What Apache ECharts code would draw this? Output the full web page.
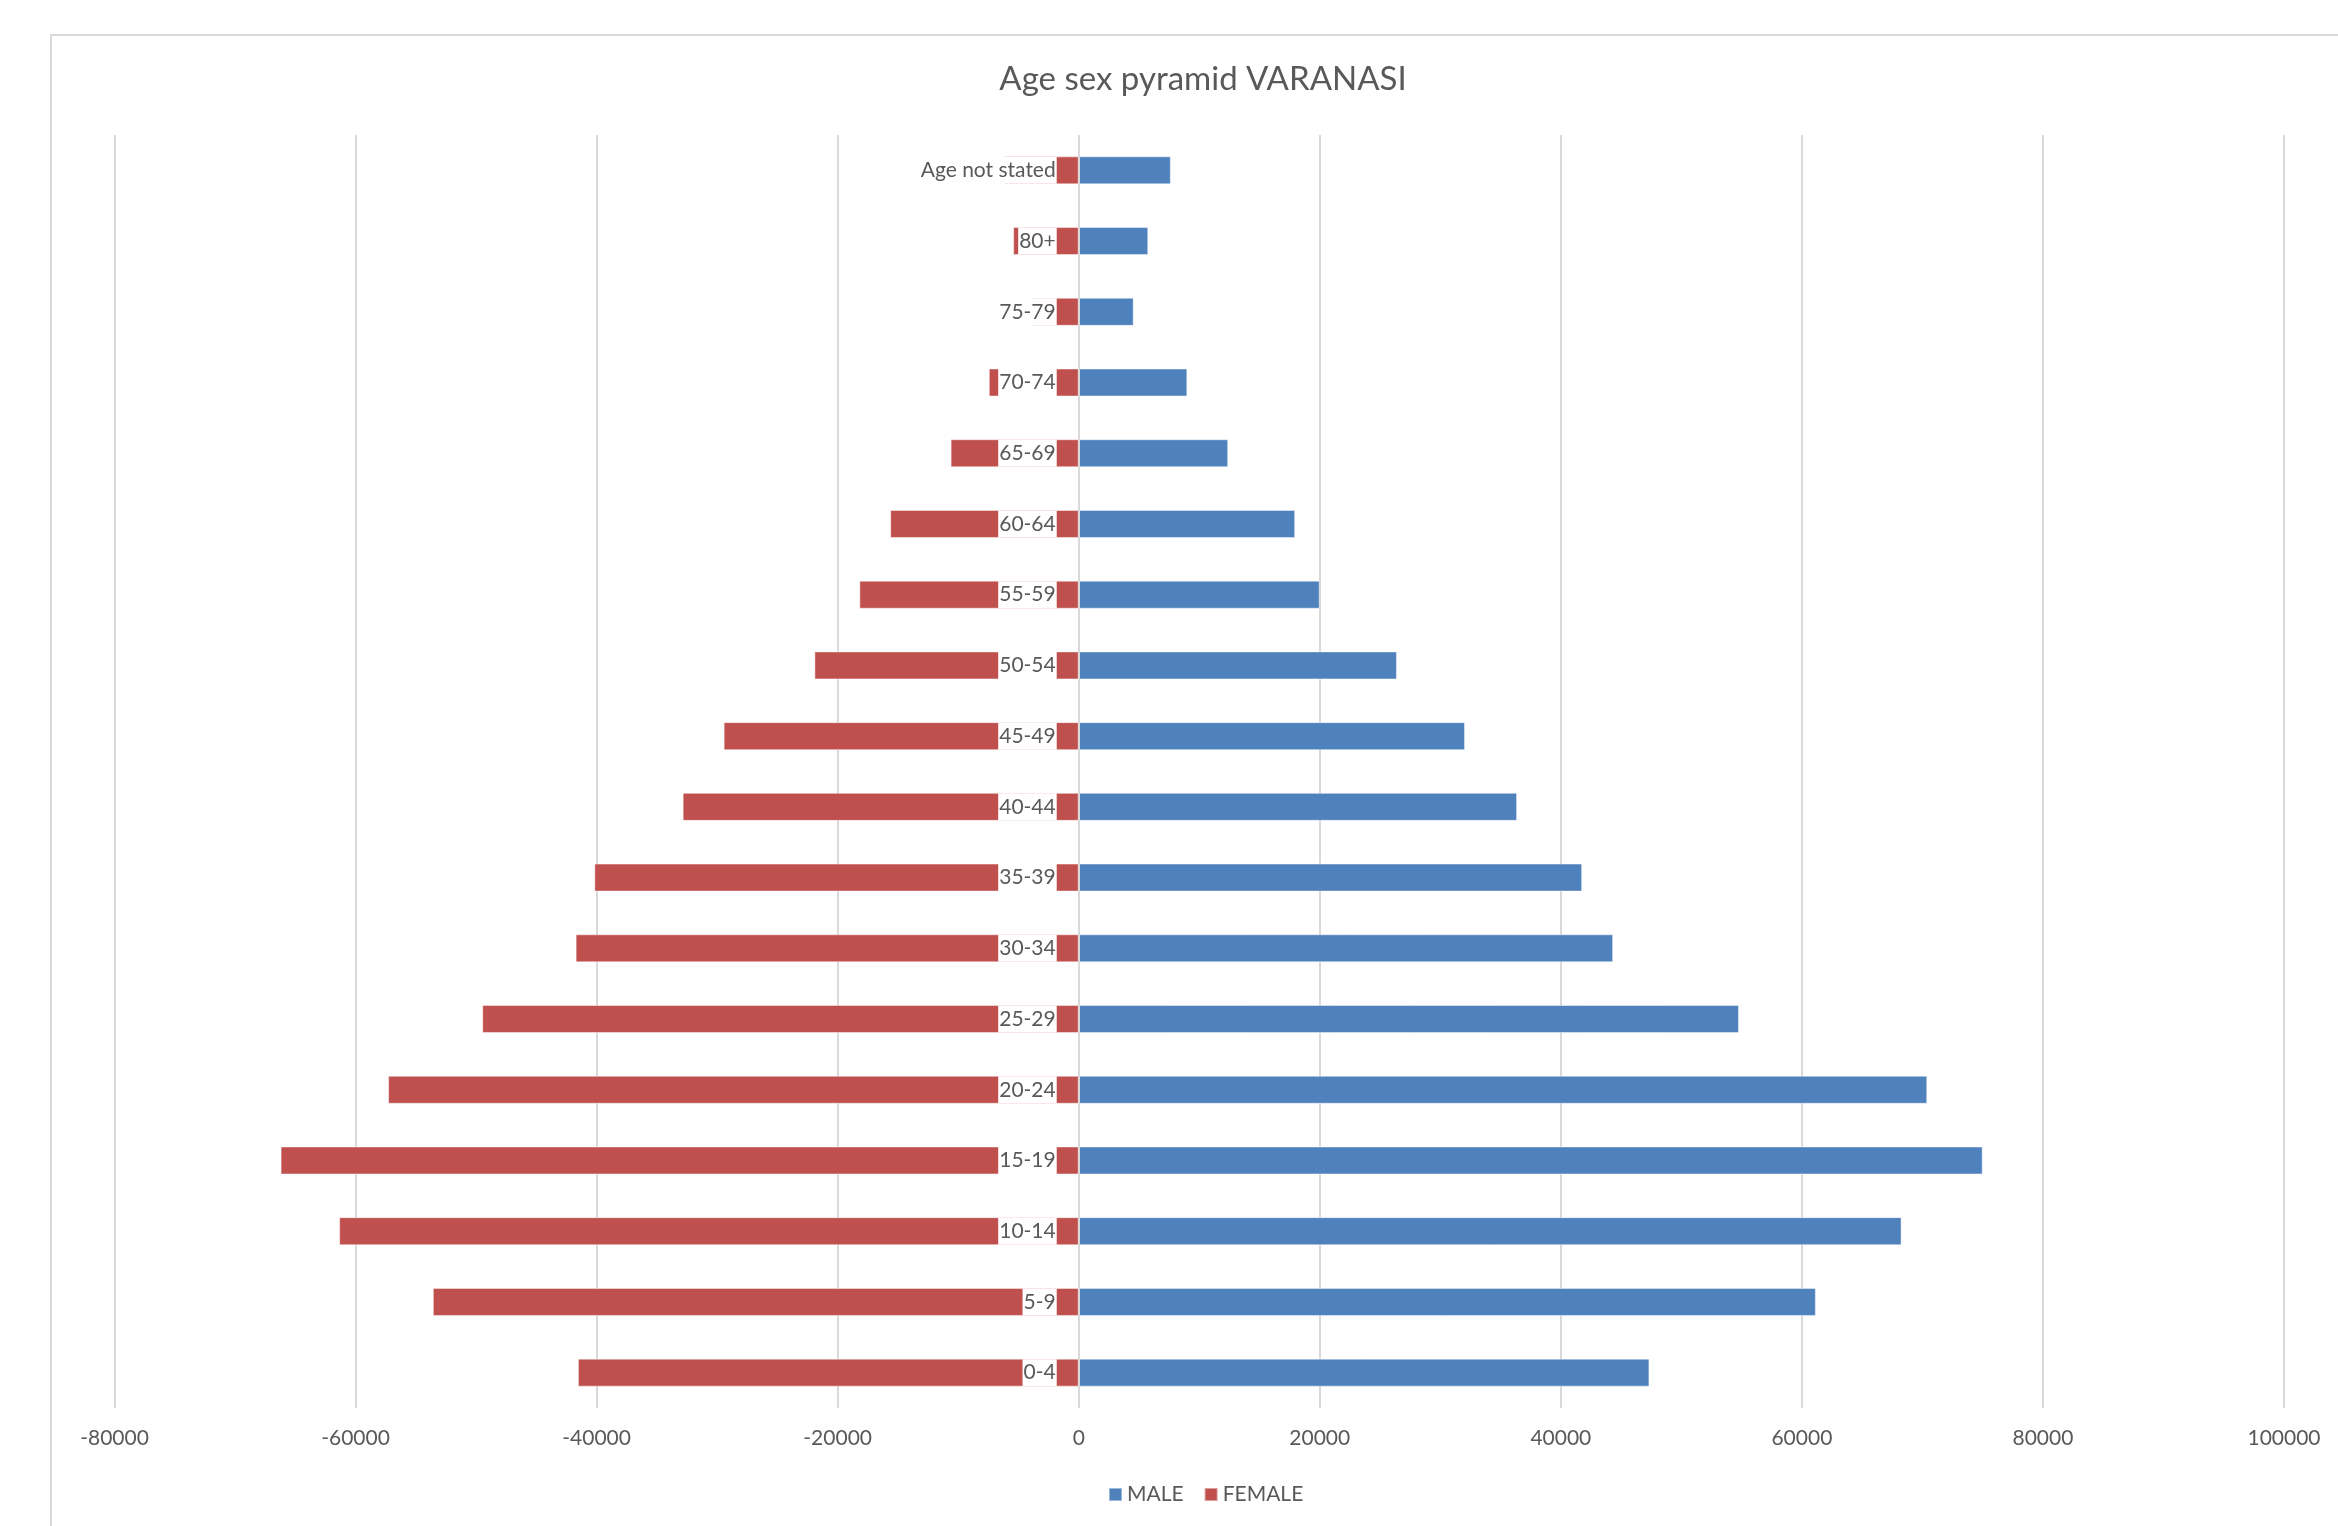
<!DOCTYPE html>
<html>
<head>
<meta charset="utf-8">
<script src="https://cdn.jsdelivr.net/npm/echarts@6/dist/echarts.min.js"></script>
<style>html,body{margin:0;padding:0;background:#fff;}#c{width:2338px;height:1526px;}</style>
</head>
<body>
<div id="c"></div>
<script>
var categories = ['0-4','5-9','10-14','15-19','20-24','25-29','30-34','35-39','40-44','45-49','50-54','55-59','60-64','65-69','70-74','75-79','80+','Age not stated'];
var maleValues = [47350, 61160, 68270, 75000, 70400, 54780, 44340, 41770, 36370, 32050, 26400, 19990, 17960, 12400, 9010, 4560, 5770, 7640];
var femaleValues = [-41550, -53590, -61360, -66220, -57300, -49490, -41740, -40190, -32860, -29460, -21930, -18200, -15640, -10630, -7460, -3830, -5440, -6210];
var tickLabels = ['-80000','-60000','-40000','-20000','0','20000','40000','60000','80000','100000'];

var FONT = 'Lato, "Open Sans", sans-serif';
var chart = echarts.init(document.getElementById('c'), null, {renderer: 'canvas'});
chart.setOption({
  animation: false,
  backgroundColor: '#ffffff',
  graphic: [{
    type: 'rect', z: -10, silent: true,
    shape: {x: 51, y: 35, width: 2400, height: 1600},
    style: {fill: 'none', stroke: '#d9d9d9', lineWidth: 2}
  }],
  title: {
    text: 'Age sex pyramid VARANASI',
    left: 1198, top: 58, textAlign: 'center',
    textStyle: {fontFamily: FONT, fontSize: 33, fontWeight: 'normal', color: '#595959'}
  },
  legend: {
    data: ['MALE', 'FEMALE'],
    left: 1103, top: 1479,
    icon: 'rect', itemWidth: 13, itemHeight: 13, itemGap: 20,
    textStyle: {fontFamily: FONT, fontSize: 21, color: '#595959'}
  },
  grid: {left: 114.5, right: 54, top: 135, bottom: 118, containLabel: false, outerBoundsMode: 'none'},
  xAxis: {
    type: 'value', min: -80000, max: 100000, interval: 20000,
    axisLine: {show: false}, axisTick: {show: false},
    splitLine: {show: true, lineStyle: {color: '#d9d9d9', width: 2}},
    axisLabel: {
      margin: 20, fontFamily: FONT, fontSize: 21, color: '#595959',
      formatter: function (v) { var i = tickLabels.indexOf(String(v)); return i >= 0 ? tickLabels[i] : String(v); }
    }
  },
  yAxis: {
    type: 'category', data: categories,
    axisLine: {show: false}, axisTick: {show: false},
    splitLine: {show: false},
    axisLabel: {show: false}
  },
  series: [
    {
      name: 'MALE', type: 'bar', data: maleValues, barWidth: 28, barGap: '-100%', z: 2,
      itemStyle: {color: '#4F81BD', borderColor: 'rgba(255,255,255,0.45)', borderWidth: 1}
    },
    {
      name: 'FEMALE', type: 'bar', data: femaleValues, barWidth: 28, barGap: '-100%', z: 2,
      itemStyle: {color: '#C0504D', borderColor: 'rgba(255,255,255,0.45)', borderWidth: 1}
    },
    {
      name: 'labels', type: 'scatter', z: 10,
      data: categories.map(function (c) { return [0, c]; }),
      symbol: 'rect', symbolSize: 2, itemStyle: {color: 'rgba(0,0,0,0)', opacity: 1},
      silent: true,
      labelLayout: {hideOverlap: false},
      label: {
        show: true, position: 'left', distance: 21, opacity: 1,
        formatter: function (p) { return p.value[1]; },
        fontFamily: FONT, fontSize: 21, color: '#595959',
        backgroundColor: '#ffffff', lineHeight: 26, padding: [0, 1, 1, 1]
      },
      markLine: {
        silent: true, symbol: 'none', label: {show: false},
        lineStyle: {color: '#d9d9d9', width: 2, type: 'solid', opacity: 1},
        data: [{xAxis: 0}]
      }
    }
  ]
});
</script>
</body>
</html>
